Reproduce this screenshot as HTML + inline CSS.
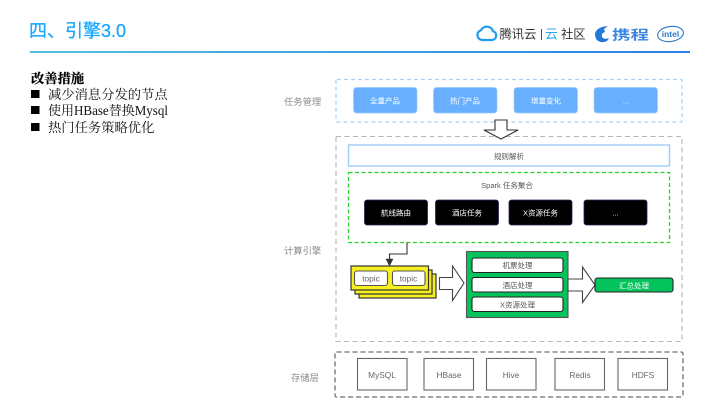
<!DOCTYPE html>
<html><head><meta charset="utf-8">
<style>
html,body{margin:0;padding:0;background:#fff;width:720px;height:405px;overflow:hidden}
svg{display:block}
text{font-family:"Liberation Sans","Noto Sans CJK SC",sans-serif}
.s{font-family:"Liberation Serif","Noto Serif CJK SC",serif;font-size:13.3px;fill:#111}
.g{font-size:9.3px;fill:#8a8a8a}
.w{font-size:7.5px;fill:#fff;text-anchor:middle}
.b{font-size:7.5px;fill:#555;text-anchor:middle}
.d{font-size:8.3px;fill:#666;text-anchor:middle}
.soft{filter:blur(.35px)}
</style></head><body>
<svg width="720" height="405" viewBox="0 0 720 405" xmlns="http://www.w3.org/2000/svg">
<defs><linearGradient id="l" x1="0" x2="1" y1="0" y2="0"><stop offset="0" stop-color="#4fc1de"/><stop offset="1" stop-color="#2b7fe9"/></linearGradient></defs>
<rect width="720" height="405" fill="#fff"/>
<text x="29" y="37" font-size="18" fill="#1aa7ff" stroke="#1aa7ff" stroke-width=".3">四、引擎3.0</text>
<rect x="30" y="51" width="660" height="2" fill="url(#l)"/>

<!-- logos -->
<g class="soft">
<path d="M482 40 h10 a4.500 4.500 0 0 0 1 -8.800 a6.500 6.500 0 0 0 -12 -1 a5 5 0 0 0 1 9.800z" fill="none" stroke="#1f9bf0" stroke-width="2.200"/>
<text x="499.500" y="38.500" font-size="12.300" fill="#333">腾讯云</text>
<rect x="541" y="29" width="1" height="11" fill="#555"/>
<text x="545" y="38.500" font-size="12.800" fill="#2aa5ee">云</text>
<text x="561" y="38.500" font-size="12.300" fill="#333">社区</text>
<path d="M608 26 q-12 1 -13 8 q0 7 6 8 q6 1 8 -4 q-5 2 -7 -1 q-1 -4 3 -5 l-1 -3z" fill="#2477d8"/>
<text transform="translate(612 39.500) scale(1.420 1)" x="0" y="0" font-size="13" font-weight="bold" fill="#3d86e0">携程</text>
<ellipse cx="670.500" cy="34" rx="13" ry="7.500" fill="none" stroke="#2a78c8" stroke-width="1.100" transform="rotate(-8 670.500 34)"/>
<text x="670.500" y="37" font-size="8.500" font-weight="bold" fill="#2a78c8" text-anchor="middle">intel</text>
</g>

<!-- left text -->
<text class="s" x="31" y="83" style="font-weight:700;fill:#000" stroke="#000" stroke-width=".25">改善措施</text>
<rect x="31" y="90" width="8.500" height="8" fill="#000"/>
<text class="s" x="48" y="99">减少消息分发的节点</text>
<rect x="31" y="106" width="8.500" height="8" fill="#000"/>
<text class="s" x="48" y="115" textLength="120" lengthAdjust="spacingAndGlyphs">使用HBase替换Mysql</text>
<rect x="31" y="123" width="8.500" height="8" fill="#000"/>
<text class="s" x="48" y="132">热门任务策略优化</text>

<g class="soft">
<!-- side labels -->
<text class="g" x="284" y="105">任务管理</text>
<text class="g" x="284" y="254">计算引擎</text>
<text class="g" x="291" y="381">存储层</text>

<!-- task management -->
<rect x="336" y="79.500" width="346" height="42.500" rx="1" fill="none" stroke="#a9d2fb" stroke-width="1.300" stroke-dasharray="4 3"/>
<g fill="#68b0ff" stroke="#9accff" stroke-width=".7">
<rect x="353.500" y="87.500" width="63.500" height="25.500" rx="3"/>
<rect x="433.500" y="87.500" width="63.500" height="25.500" rx="3"/>
<rect x="514" y="87.500" width="63.500" height="25.500" rx="3"/>
<rect x="594" y="87.500" width="63.500" height="25.500" rx="3"/>
</g>
<text class="w" x="385" y="103.500">全量产品</text>
<text class="w" x="465" y="103.500">热门产品</text>
<text class="w" x="546" y="103.500">增量变化</text>
<text class="w" x="626" y="103.500">...</text>

<!-- engine -->
<rect x="336" y="136.500" width="346" height="205" fill="none" stroke="#b5b5b5" stroke-width="1.100" stroke-dasharray="5 3.500"/>
<path d="M495 120 h12 v10 h11 l-17 9 l-17 -9 h11z" fill="#fff" stroke="#333" stroke-width="1.100"/>
<rect x="348.500" y="145" width="321" height="21" fill="#fff" stroke="#a5cdf8" stroke-width="1.500"/>
<text class="b" x="509" y="159">规则解析</text>
<rect x="348.500" y="172.500" width="321" height="70" fill="none" stroke="#2bd42b" stroke-width="1.300" stroke-dasharray="4 2.500"/>
<text class="b" x="507" y="188">Spark 任务聚合</text>
<g fill="#000" stroke="#35205a" stroke-width=".8">
<rect x="364.500" y="200" width="63" height="25" rx="2.500"/>
<rect x="435.500" y="200" width="63" height="25" rx="2.500"/>
<rect x="509" y="200" width="63" height="25" rx="2.500"/>
<rect x="584" y="200" width="63" height="25" rx="2.500"/>
</g>
<text class="w" x="396" y="215.500">航线路由</text>
<text class="w" x="467" y="215.500">酒店任务</text>
<text class="w" x="540.500" y="215.500">X资源任务</text>
<text class="w" x="615.500" y="215.500">...</text>

<!-- connector -->
<path d="M407 242.500 V254 H389.500 V260" fill="none" stroke="#333" stroke-width="1.100"/>
<path d="M386 259 h7 l-3.500 7z" fill="#333" stroke="#333" stroke-width=".5"/>

<!-- topic stack -->
<g fill="#f7f020" stroke="#333" stroke-width="1.200">
<rect x="359" y="274" width="77" height="24"/>
<rect x="355" y="270" width="77" height="24"/>
<rect x="351" y="266" width="77.500" height="24"/>
</g>
<g fill="#fff" stroke="#555" stroke-width="1.100">
<rect x="354.500" y="271" width="33" height="14.500" rx="2.500"/>
<rect x="392.500" y="271" width="32.500" height="14.500" rx="2.500"/>
</g>
<text class="d" x="371" y="281.500">topic</text>
<text class="d" x="408.500" y="281.500">topic</text>

<path d="M439.500 277.500 H452.500 V266 L464 283 L452.500 300.500 V289.500 H439.500Z" fill="#fff" stroke="#444" stroke-width="1.100"/>

<!-- processing -->
<rect x="466.500" y="251.500" width="101.500" height="66" fill="#04c25c" stroke="#555" stroke-width="1.100"/>
<g fill="#fff" stroke="#222" stroke-width="1.100">
<rect x="472" y="258" width="91" height="14.500" rx="2.500"/>
<rect x="472" y="277.500" width="91" height="14.500" rx="2.500"/>
<rect x="472" y="297" width="91" height="14.500" rx="2.500"/>
</g>
<text class="b" x="517.500" y="268">机票处理</text>
<text class="b" x="517.500" y="288">酒店处理</text>
<text class="b" x="517.500" y="307.500">X资源处理</text>

<path d="M568 279 H582.500 V267 L595 285 L582.500 302.500 V291 H568Z" fill="#fff" stroke="#444" stroke-width="1.100"/>
<rect x="595" y="278" width="78" height="14" rx="2.500" fill="#04c25c" stroke="#222" stroke-width="1.100"/>
<text class="w" x="634" y="288.500">汇总处理</text>

<!-- storage -->
<rect x="335" y="352" width="348" height="45" rx="1.500" fill="none" stroke="#6e6e6e" stroke-width="1.300" stroke-dasharray="5 3"/>
<g fill="#fff" stroke="#666" stroke-width="1.100">
<rect x="357.500" y="358.500" width="49.500" height="31.500"/>
<rect x="424" y="358.500" width="49.500" height="31.500"/>
<rect x="486.500" y="358.500" width="49.500" height="31.500"/>
<rect x="555" y="358.500" width="49.500" height="31.500"/>
<rect x="618" y="358.500" width="49.500" height="31.500"/>
</g>
<text class="d" x="382" y="378">MySQL</text>
<text class="d" x="449" y="378">HBase</text>
<text class="d" x="511" y="378">Hive</text>
<text class="d" x="580" y="378">Redis</text>
<text class="d" x="643" y="378">HDFS</text>
</g>
</svg>
</body></html>
